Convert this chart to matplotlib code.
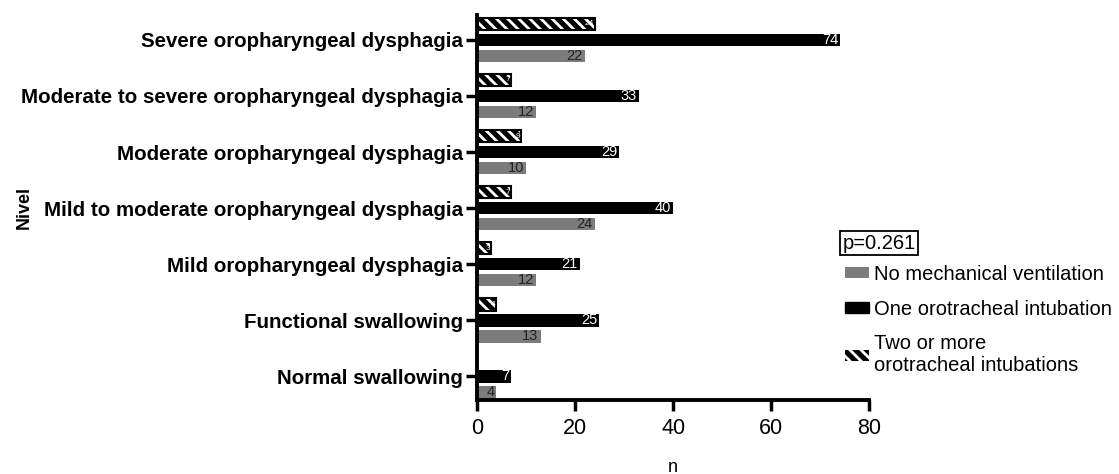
import matplotlib.pyplot as plt
import matplotlib.patches as mpatches
import numpy as np

plt.rcParams["font.family"] = ["Liberation Sans", "DejaVu Sans"]

categories = [
    "Normal swallowing",
    "Functional swallowing",
    "Mild oropharyngeal dysphagia",
    "Mild to moderate oropharyngeal dysphagia",
    "Moderate oropharyngeal dysphagia",
    "Moderate to severe oropharyngeal dysphagia",
    "Severe oropharyngeal dysphagia",
]
no_ventilation = [4, 13, 12, 24, 10, 12, 22]
one_intubation = [7, 25, 21, 40, 29, 33, 74]
two_or_more = [0, 4, 3, 7, 9, 7, 24]

series_labels = [
    "No mechanical ventilation",
    "One orotracheal intubation",
    "Two or more\norotracheal intubations",
]
GRAY = "#7c7c7c"

plt.rcParams["hatch.linewidth"] = 2.0

fig = plt.figure(figsize=(11.19, 4.74), dpi=100)
ax = fig.add_axes([0.426, 0.156, 0.351, 0.812])

y = np.arange(len(categories))
off = 0.285
h = 0.22

b_gray = ax.barh(y - off, no_ventilation, height=h, color=GRAY)
b_black = ax.barh(y, one_intubation, height=h, color="black")
# hatched bars: white hatch over black, then a black outline on top
b_hatch = ax.barh(y + off, two_or_more, height=h, color="black",
                  edgecolor="white", hatch="\\\\\\", linewidth=0)
ax.barh(y + off, two_or_more, height=h, fill=False, edgecolor="black", linewidth=1.5)

for bars, vals, col in [(b_gray, no_ventilation, "#222222"),
                        (b_black, one_intubation, "white")]:
    for bar, v in zip(bars, vals):
        ax.text(v - 0.4, bar.get_y() + bar.get_height() / 2, str(v),
                ha="right", va="center", fontsize=10.5, color=col)
for bar, v in zip(b_hatch, two_or_more):
    if v > 0:
        ax.text(v - 0.2, bar.get_y() + bar.get_height() / 2, str(v),
                ha="right", va="center", fontsize=6, color="white")

ax.set_xlim(0, 80)
ax.set_ylim(-0.42, 6.44)
ax.set_xticks([0, 20, 40, 60, 80])
ax.set_yticks(y)
ax.set_yticklabels(categories, fontsize=14.8, fontweight="bold")
ax.tick_params(axis="x", labelsize=15.5, width=2.5, length=8, pad=5)
ax.tick_params(axis="y", width=2.5, length=8, pad=2)
for s in ["top", "right"]:
    ax.spines[s].set_visible(False)
for s in ["left", "bottom"]:
    ax.spines[s].set_linewidth(2.8)

ax.set_xlabel("n", fontsize=13, labelpad=14)
ax.set_ylabel("Nivel", fontsize=13, fontweight="bold")
ax.yaxis.set_label_coords(-1.13, 0.5)

fig.text(0.753, 0.487, "p=0.261", fontsize=14.5, ha="left", va="center",
         bbox=dict(boxstyle="square,pad=0.12", facecolor="white",
                   edgecolor="black", linewidth=1.3))

handles = [
    mpatches.Patch(facecolor=GRAY, edgecolor="none"),
    mpatches.Patch(facecolor="black", edgecolor="black"),
    mpatches.Patch(facecolor="black", edgecolor="white", hatch="\\\\\\", linewidth=0),
]
fig.legend(handles, series_labels, loc="upper left", bbox_to_anchor=(0.748, 0.458),
           frameon=False, fontsize=14.5, handlelength=1.2, handleheight=0.45,
           handletextpad=0.25, labelspacing=0.78, borderaxespad=0)

fig.savefig("out.png", dpi=100)
